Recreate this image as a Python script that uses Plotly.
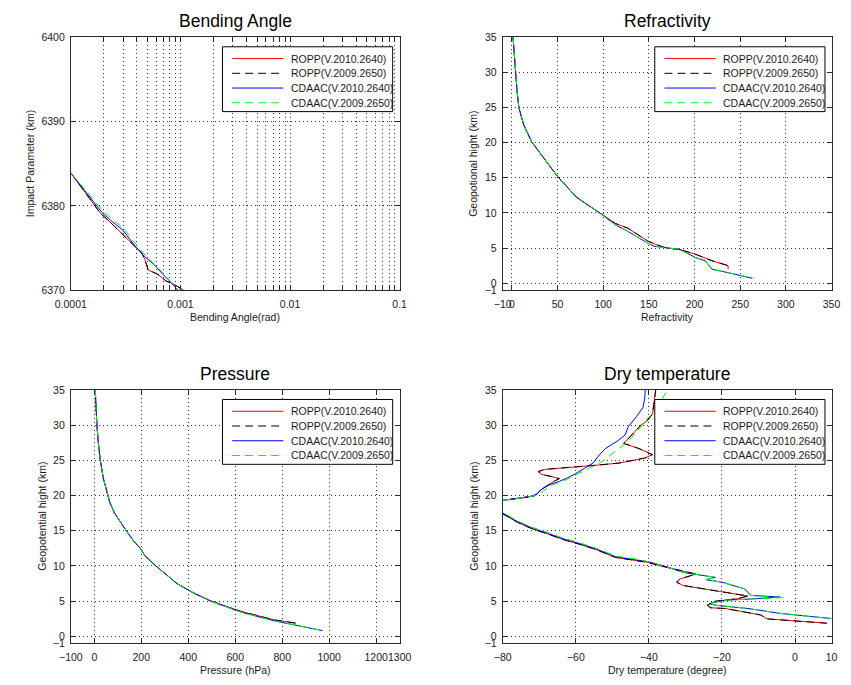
import plotly.graph_objects as go

W, H = 851, 685
FONT = "Liberation Sans, Arial, Helvetica, sans-serif"

# ---------------- series meta ----------------
series_names = ["ROPP(V.2010.2640)", "ROPP(V.2009.2650)", "CDAAC(V.2010.2640)", "CDAAC(V.2009.2650)"]
series_colors = ["#ff0000", "#000000", "#0000ff", "#00ff00"]
series_dash = ["solid", "8px,5px", "solid", "8px,5px"]

panel_titles = ["Bending Angle", "Refractivity", "Pressure", "Dry temperature"]
x_titles = ["Bending Angle(rad)", "Refractivity", "Pressure (hPa)", "Dry temperature (degree)"]
y_titles = ["Impact Parameter (km)", "Geopotional hight (km)", "Geopotential hight (km)", "Geopotential hight (km)"]

# ---------------- Bending angle (rad) vs impact parameter (km) ----------------
ba_ropp10_a = [1.0e-4, 1.4e-4, 1.84e-4, 2.4e-4, 2.95e-4, 3.75e-4, 4.44e-4, 4.75e-4, 5.08e-4, 6.2e-4, 7.38e-4, 8.71e-4, 1.07e-3]
ba_ropp10_h = [6383.9, 6381.3, 6379.2, 6377.8, 6376.7, 6375.3, 6374.4, 6373.6, 6372.4, 6371.9, 6371.1, 6370.7, 6370.0]
ba_ropp09_a = [1.0e-4, 1.4e-4, 1.84e-4, 2.4e-4, 2.95e-4, 3.75e-4, 4.44e-4, 4.75e-4, 5.08e-4, 6.2e-4, 7.38e-4, 8.71e-4, 1.07e-3]
ba_ropp09_h = [6383.9, 6381.3, 6379.2, 6377.8, 6376.7, 6375.3, 6374.4, 6373.6, 6372.4, 6371.9, 6371.1, 6370.7, 6370.0]
ba_cdaac10_a = [1.0e-4, 1.4e-4, 1.93e-4, 2.4e-4, 2.95e-4, 3.87e-4, 4.7e-4, 5.8e-4, 6.89e-4, 8.1e-4, 9.5e-4]
ba_cdaac10_h = [6383.9, 6381.5, 6379.2, 6378.1, 6377.2, 6375.2, 6374.0, 6373.0, 6371.9, 6371.0, 6370.0]
ba_cdaac09_a = [1.0e-4, 1.42e-4, 1.97e-4, 2.45e-4, 3.0e-4, 3.95e-4, 4.8e-4, 5.9e-4, 7.0e-4, 8.2e-4, 9.35e-4]
ba_cdaac09_h = [6383.9, 6381.6, 6379.4, 6378.3, 6377.4, 6375.4, 6374.1, 6373.0, 6371.9, 6371.0, 6370.0]

# ---------------- Refractivity vs height (km) ----------------
ref_ropp10_n = [1.3, 2.5, 4.1, 5.6, 7.6, 13.0, 21.7, 35.8, 49.9, 71.0, 99.3, 113.3, 127.4, 148.5, 160.0, 169.7, 183.8, 201.4, 219.0, 233.0, 236.7, 236.7]
ref_ropp10_h = [35.0, 32.5, 30.1, 27.5, 25.0, 22.5, 20.1, 17.6, 15.2, 12.2, 9.7, 8.5, 7.8, 6.0, 5.4, 5.0, 4.8, 4.1, 3.2, 2.7, 2.5, 2.0]
ref_ropp09_n = [1.3, 2.5, 4.1, 5.6, 7.6, 13.0, 21.7, 35.8, 49.9, 71.0, 99.3, 113.3, 127.4, 148.5, 160.0, 169.7, 183.8, 201.4, 219.0, 233.0, 236.7, 236.7]
ref_ropp09_h = [35.0, 32.5, 30.1, 27.5, 25.0, 22.5, 20.1, 17.6, 15.2, 12.2, 9.7, 8.5, 7.8, 6.0, 5.4, 5.0, 4.8, 4.1, 3.2, 2.7, 2.5, 2.0]
ref_cdaac10_n = [1.3, 2.5, 4.1, 5.6, 7.6, 13.0, 21.7, 35.8, 49.9, 71.0, 99.3, 113.3, 127.4, 148.5, 155.6, 183.8, 201.4, 212.0, 219.0, 240.0, 263.0]
ref_cdaac10_h = [35.0, 32.5, 30.1, 27.5, 25.0, 22.5, 20.1, 17.6, 15.2, 12.2, 9.7, 8.3, 7.35, 5.7, 5.26, 4.8, 3.63, 3.17, 2.0, 1.4, 0.7]
ref_cdaac09_n = [1.3, 2.5, 4.1, 5.6, 7.6, 13.0, 21.7, 35.8, 49.9, 71.0, 99.3, 113.3, 127.4, 148.5, 155.6, 183.8, 201.4, 212.0, 219.0, 240.0, 265.0]
ref_cdaac09_h = [35.0, 32.5, 30.1, 27.5, 25.0, 22.5, 20.1, 17.6, 15.2, 12.2, 9.7, 8.3, 7.35, 5.7, 5.26, 4.8, 3.63, 3.17, 2.0, 1.4, 0.7]

# ---------------- Pressure (hPa) vs height (km) ----------------
p_ropp10 = [4, 7, 11, 17, 25, 38, 56, 66, 86, 115, 134, 168, 196, 214, 258, 305, 354, 420, 491, 565, 628, 766, 859]
p_ropp10_h = [35.0, 32.5, 30.0, 27.5, 25.1, 22.5, 20.2, 19.0, 17.5, 16.0, 15.1, 13.5, 12.5, 11.5, 10.1, 8.8, 7.44, 6.2, 5.1, 4.2, 3.5, 2.33, 1.86]
p_ropp09 = [4, 7, 11, 17, 25, 38, 56, 66, 86, 115, 134, 168, 196, 214, 258, 305, 354, 420, 491, 565, 628, 766, 859]
p_ropp09_h = [35.0, 32.5, 30.0, 27.5, 25.1, 22.5, 20.2, 19.0, 17.5, 16.0, 15.1, 13.5, 12.5, 11.5, 10.1, 8.8, 7.44, 6.2, 5.1, 4.2, 3.5, 2.33, 1.86]
p_cdaac10 = [4, 7, 11, 17, 25, 38, 56, 66, 86, 115, 134, 168, 196, 214, 258, 305, 354, 420, 491, 565, 628, 766, 859, 972]
p_cdaac10_h = [35.0, 32.5, 30.0, 27.5, 25.1, 22.5, 20.2, 19.0, 17.5, 16.0, 15.1, 13.5, 12.5, 11.5, 10.1, 8.8, 7.44, 6.2, 5.05, 4.15, 3.4, 2.2, 1.55, 0.8]
p_cdaac09 = [4, 7, 11, 17, 25, 38, 56, 66, 86, 115, 134, 168, 196, 214, 258, 305, 354, 420, 491, 565, 628, 766, 859, 975]
p_cdaac09_h = [35.0, 32.5, 30.0, 27.5, 25.1, 22.5, 20.2, 19.0, 17.5, 16.0, 15.1, 13.5, 12.5, 11.5, 10.1, 8.8, 7.44, 6.2, 5.05, 4.15, 3.4, 2.2, 1.55, 0.8]

# ---------------- Dry temperature (degree) vs height (km) ----------------
dt_ropp10_t = [-38.1, -38.5, -39.0, -40.3, -42.5, -44.7, -46.9, -42.9, -39.0, -41.2, -48.2, -54.4, -58.8, -65.0,
               -68.5, -70.3, -69.4, -66.8, -64.5, -66.0, -67.8, -69.8, -70.6, -71.5, -75.6, -80.0, -82.5, -83.0,
               -81.5, -80.0, -76.0, -72.1, -67.5, -63.2, -58.5, -54.4, -49.1, -44.0, -40.3, -36.8, -27.1, -31.5,
               -32.4, -30.6, -21.8, -12.9, -15.6, -21.8, -24.0, -23.1, -19.1, -9.4, -7.6, -0.6, 8.7]
dt_ropp10_h = [35.1, 33.5, 31.6, 30.7, 29.8, 28.6, 27.4, 26.7, 25.8, 25.3, 24.6, 24.3, 24.1, 23.9,
               23.7, 23.4, 23.0, 22.7, 22.4, 22.0, 21.4, 20.7, 20.2, 19.9, 19.6, 19.3, 18.8, 18.3,
               17.7, 17.4, 16.2, 15.3, 14.5, 13.7, 13.0, 12.3, 11.2, 10.85, 10.5, 10.0, 8.84, 8.14,
               7.68, 7.21, 6.51, 5.72, 5.35, 4.98, 4.42, 4.05, 3.95, 3.03, 2.47, 2.19, 1.86]
dt_ropp09_t = [-38.1, -38.5, -39.0, -40.3, -42.5, -44.7, -46.9, -42.9, -39.0, -41.2, -48.2, -54.4, -58.8, -65.0,
               -68.5, -70.3, -69.4, -66.8, -64.5, -66.0, -67.8, -69.8, -70.6, -71.5, -75.6, -80.0, -82.5, -83.0,
               -81.5, -80.0, -76.0, -72.1, -67.5, -63.2, -58.5, -54.4, -49.1, -44.0, -40.3, -36.8, -27.1, -31.5,
               -32.4, -30.6, -21.8, -12.9, -15.6, -21.8, -24.0, -23.1, -19.1, -9.4, -7.6, -0.6, 8.7]
dt_ropp09_h = [35.1, 33.5, 31.6, 30.7, 29.8, 28.6, 27.4, 26.7, 25.8, 25.3, 24.6, 24.3, 24.1, 23.9,
               23.7, 23.4, 23.0, 22.7, 22.4, 22.0, 21.4, 20.7, 20.2, 19.9, 19.6, 19.3, 18.8, 18.3,
               17.7, 17.4, 16.2, 15.3, 14.5, 13.7, 13.0, 12.3, 11.2, 10.85, 10.5, 10.0, 8.84, 8.14,
               7.68, 7.21, 6.51, 5.72, 5.35, 4.98, 4.42, 4.05, 3.95, 3.03, 2.47, 2.19, 1.86]
dt_cdaac10_t = [-41.0, -41.1, -41.6, -43.4, -45.6, -46.5, -48.7, -51.8, -53.5, -55.3, -57.5, -60.0, -62.3, -64.5,
                -66.8, -68.5, -69.8, -70.4, -72.0, -76.0, -80.0, -82.5, -83.0, -81.5, -80.0, -76.0, -72.1, -67.5,
                -63.2, -58.5, -54.4, -49.1, -44.0, -40.3, -35.9, -30.6, -21.8, -24.4, -20.0, -13.8, -12.1, -4.1,
                -12.0, -19.1, -23.5, -21.8, -12.9, -4.1, 4.7, 10.5]
dt_cdaac10_h = [35.1, 33.9, 32.5, 31.2, 29.8, 28.6, 27.7, 26.7, 25.8, 24.6, 23.9, 23.1, 22.5, 22.0,
                21.6, 21.2, 20.7, 20.3, 19.9, 19.6, 19.3, 18.8, 18.3, 17.8, 17.5, 16.3, 15.4, 14.6,
                13.8, 13.1, 12.4, 11.3, 10.9, 10.6, 10.0, 9.07, 8.37, 8.05, 7.68, 6.74, 5.81, 5.58,
                5.3, 5.12, 4.65, 4.42, 3.95, 3.26, 2.79, 2.5]
dt_cdaac09_t = [-35.4, -37.0, -39.4, -41.2, -42.9, -45.6, -49.1, -52.6, -56.2, -59.7, -63.2, -66.8, -69.4, -70.3,
                -72.0, -76.0, -80.0, -82.5, -83.0, -81.5, -80.0, -76.0, -72.1, -67.5, -63.2, -58.5, -54.4, -49.1,
                -44.0, -40.3, -35.9, -30.6, -21.8, -24.4, -20.0, -13.8, -12.1, -2.8, -12.0, -19.1, -23.5, -21.8,
                -12.9, -4.1, 4.7, 10.5]
dt_cdaac09_h = [34.6, 33.0, 31.4, 30.5, 29.3, 27.7, 26.3, 24.9, 23.9, 23.0, 22.1, 21.4, 20.5, 20.1,
                19.9, 19.6, 19.3, 18.8, 18.3, 17.9, 17.6, 16.4, 15.5, 14.7, 13.9, 13.2, 12.5, 11.4,
                11.0, 10.6, 10.0, 9.07, 8.37, 8.05, 7.68, 6.74, 5.81, 5.49, 5.3, 5.12, 4.65, 4.42,
                3.95, 3.26, 2.79, 2.5]

# ---------------- ticks ----------------
ba_decades = [1e-4, 1e-3, 1e-2, 1e-1]
ba_decade_labels = ["0.0001", "0.001", "0.01", "0.1"]
ba_y_ticks = [6370, 6380, 6390, 6400]
ref_x_ticks = [-10, 0, 50, 100, 150, 200, 250, 300, 350]
p_x_ticks = [-100, 0, 200, 400, 600, 800, 1000, 1200, 1300]
dt_x_ticks = [-80, -60, -40, -20, 0, 10]
h_ticks = [-1, 0, 5, 10, 15, 20, 25, 30, 35]

panel_data = [
    [(ba_ropp10_a, ba_ropp10_h), (ba_ropp09_a, ba_ropp09_h), (ba_cdaac10_a, ba_cdaac10_h), (ba_cdaac09_a, ba_cdaac09_h)],
    [(ref_ropp10_n, ref_ropp10_h), (ref_ropp09_n, ref_ropp09_h), (ref_cdaac10_n, ref_cdaac10_h), (ref_cdaac09_n, ref_cdaac09_h)],
    [(p_ropp10, p_ropp10_h), (p_ropp09, p_ropp09_h), (p_cdaac10, p_cdaac10_h), (p_cdaac09, p_cdaac09_h)],
    [(dt_ropp10_t, dt_ropp10_h), (dt_ropp09_t, dt_ropp09_h), (dt_cdaac10_t, dt_cdaac10_h), (dt_cdaac09_t, dt_cdaac09_h)],
]

# panel boxes in pixels: left, right, top, bottom
boxes = [(56.7, 396.7, 31.7, 289.3), (503.3, 843.3, 31.7, 289.3),
         (56.7, 396.7, 390.7, 648.7), (503.3, 843.3, 390.7, 648.7)]
ytitle_x = [14, 472.7, 26, 472.7]


def pxx(x):
    return x / W


def pxy(y):
    return 1 - y / H


fig = go.Figure()
axis_ids = ["", "2", "3", "4"]
for p, series in enumerate(panel_data):
    for s, (xs, ys) in enumerate(series):
        fig.add_trace(go.Scatter(
            x=xs, y=ys, mode="lines", name=series_names[s], showlegend=False,
            line=dict(color=series_colors[s], width=1, dash=series_dash[s]),
            xaxis="x" + axis_ids[p], yaxis="y" + axis_ids[p], hoverinfo="skip"))

common = dict(showgrid=True, gridcolor="#303030", griddash="1px,3px", gridwidth=1,
              zeroline=False, showline=True, linecolor="#2b2b2b", linewidth=1,
              mirror="ticks", ticks="inside", ticklen=4, tickcolor="#2b2b2b",
              tickfont=dict(family=FONT, size=10.5, color="#1a1a1a"),
              tickmode="array", tickangle=0, fixedrange=True)

# log minor positions for bending angle
ba_tickvals = []
ba_ticktext = []
for d, lab in zip(ba_decades, ba_decade_labels):
    ba_tickvals.append(d)
    ba_ticktext.append(lab)
    if d < 0.1:
        for m in range(2, 10):
            ba_tickvals.append(d * m)
            ba_ticktext.append("")

xcfg = [
    dict(type="log", range=[-4, -1], tickvals=ba_tickvals, ticktext=ba_ticktext),
    dict(range=[-10, 350], tickvals=ref_x_ticks),
    dict(range=[-100, 1300], tickvals=p_x_ticks),
    dict(range=[-80, 10], tickvals=dt_x_ticks),
]
ycfg = [
    dict(range=[6370, 6400], tickvals=ba_y_ticks),
    dict(range=[-1, 35], tickvals=h_ticks),
    dict(range=[-1, 35], tickvals=h_ticks),
    dict(range=[-1, 35], tickvals=h_ticks),
]

layout_axes = {}
annotations = []
shapes = []
for p in range(4):
    L, R, T, B = boxes[p]
    aid = axis_ids[p]
    xa = dict(common, **xcfg[p])
    xa.update(domain=[pxx(L), pxx(R)], anchor="y" + aid, ticklabelstandoff=4)
    ya = dict(common, **ycfg[p])
    ya.update(domain=[pxy(B), pxy(T)], anchor="x" + aid, ticklabelstandoff=3)
    layout_axes["xaxis" + aid] = xa
    layout_axes["yaxis" + aid] = ya

    cx = (L + R) / 2
    annotations.append(dict(text=panel_titles[p], x=pxx(cx), y=pxy(T - 16), xref="paper", yref="paper",
                            showarrow=False, xanchor="center", yanchor="middle",
                            font=dict(family=FONT, size=17.5, color="#000000")))
    annotations.append(dict(text=x_titles[p], x=pxx(cx), y=pxy(B + 27.4), xref="paper", yref="paper",
                            showarrow=False, xanchor="center", yanchor="middle",
                            font=dict(family=FONT, size=10.5, color="#1a1a1a")))
    annotations.append(dict(text=y_titles[p], x=pxx(ytitle_x[p]), y=pxy((T + B) / 2), xref="paper", yref="paper",
                            showarrow=False, xanchor="center", yanchor="middle", textangle=-90,
                            font=dict(family=FONT, size=10.5, color="#1a1a1a")))

    # legend box (drawn like MATLAB's legend), snapped to pixel centres
    bl = round(R - 183.7) + 0.5
    br = round(R - 7.7) + 0.5
    bt = round(T + 9) + 0.5
    bb = round(T + 75.7) + 0.5
    shapes.append(dict(type="rect", xref="paper", yref="paper", x0=pxx(bl), x1=pxx(br), y0=pxy(bb), y1=pxy(bt),
                       fillcolor="white", line=dict(color="#000000", width=1), layer="above"))
    for s in range(4):
        ry = round(bt + 11.5 + 15 * s) + 0.5
        shapes.append(dict(type="line", xref="paper", yref="paper", x0=pxx(bl + 10), x1=pxx(bl + 63),
                           y0=pxy(ry), y1=pxy(ry), layer="above",
                           line=dict(color=series_colors[s], width=1, dash=series_dash[s])))
        annotations.append(dict(text=series_names[s], x=pxx(bl + 68.5), y=pxy(ry), xref="paper", yref="paper",
                                showarrow=False, xanchor="left", yanchor="middle",
                                font=dict(family=FONT, size=10.5, color="#1a1a1a")))

fig.update_layout(
    width=W, height=H, margin=dict(l=0, r=0, t=0, b=0),
    paper_bgcolor="white", plot_bgcolor="white",
    annotations=annotations, shapes=shapes, showlegend=False,
    font=dict(family=FONT), **layout_axes)

# remove the browser's default page margin so the 851x685 figure fills the window exactly
fig.write_html("out.html", config={"displayModeBar": False},
               post_script="document.body.style.margin='0';document.body.style.overflow='hidden';")
